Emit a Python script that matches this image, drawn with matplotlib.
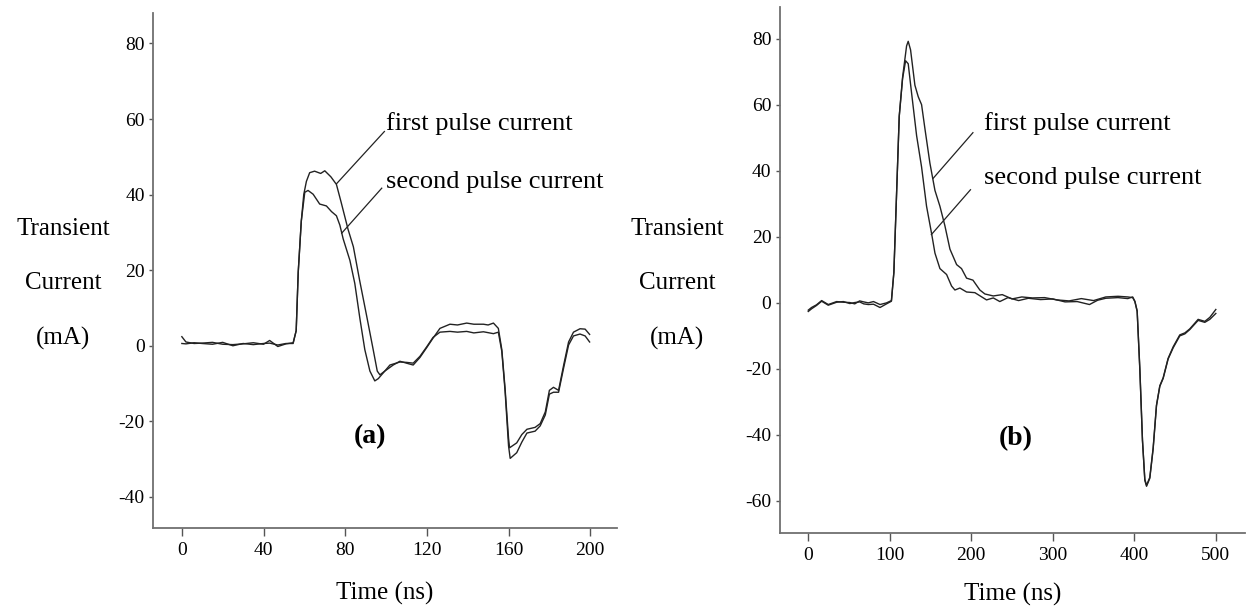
import matplotlib
matplotlib.use('Agg')
import matplotlib.pyplot as plt

plt.rcParams['font.family'] = ['Liberation Serif', 'DejaVu Serif']
plt.rcParams['axes.unicode_minus'] = False

#------------------------------------------------------------------------------
# Panel (a) data, 0-200 ns
#------------------------------------------------------------------------------
a_t1 = [0, 2, 6, 10, 15, 20, 25, 30, 35, 40, 43, 47, 51, 54.5, 56, 57, 58.5,
        59.7, 61, 62.6, 65, 68, 70, 73, 75.7, 78, 81.4, 84, 87, 90.4, 93.7,
        95.7, 97, 99.4, 103.5, 106.8, 110, 113.3, 116.6, 119.9, 123, 126.4,
        131.3, 135, 139.5, 143, 147.7, 150, 152.6, 155, 156.7, 158.3, 160,
        160.5, 164, 166.5, 169, 173, 175.5, 178, 180, 182, 184.5, 187, 189.4,
        191.8, 195, 197.5, 199.7]
a_y1 = [2.4, 1.0, 0.6, 0.7, 0.9, 0.4, 0.3, 0.5, 0.8, 0.4, 1.4, -0.2, 0.5,
        0.8, 4.0, 19.5, 33.0, 40.0, 43.5, 45.8, 46.2, 45.6, 46.3, 44.7, 42.7,
        38.0, 30.8, 26.2, 17.5, 8.2, -1.0, -6.7, -7.7, -6.7, -5.1, -4.1, -4.6,
        -5.1, -3.1, -0.5, 2.0, 4.6, 5.7, 5.5, 6.0, 5.7, 5.7, 5.5, 6.0, 4.6,
        -1.0, -11.3, -24.5, -27.0, -25.7, -23.5, -22.1, -21.6, -20.6, -17.5,
        -11.8, -11.0, -11.8, -5.1, 1.0, 3.6, 4.5, 4.4, 3.0]

a_t2 = [0, 2, 6, 10, 15, 20, 25, 30, 35, 40, 43, 47, 51, 54.5, 56, 57, 58.5,
        60.2, 61.8, 64.3, 67.5, 70.8, 73.3, 75.7, 77.4, 79, 82.3, 84.7, 87.2,
        89.6, 92.1, 94.5, 96.2, 98.6, 101.9, 106.8, 110, 113.3, 116.6, 119.9,
        123, 126.4, 131.3, 135, 139.5, 143, 147.7, 152.6, 155, 156.7, 158.3,
        160, 160.8, 164, 166.5, 169, 173, 175.5, 178, 180, 182, 184.5, 187,
        189.4, 191.8, 195, 197.5, 199.7]
a_y2 = [0.6, 0.5, 0.8, 0.6, 0.4, 0.9, 0.0, 0.6, 0.3, 0.6, 0.7, 0.2, 0.6,
        0.6, 4.0, 19.5, 33.0, 40.6, 41.1, 40.1, 37.5, 37.0, 35.5, 34.4, 31.9,
        28.3, 22.6, 16.5, 7.2, -1.0, -6.7, -9.3, -8.7, -7.2, -5.1, -4.3, -4.4,
        -4.6, -2.8, -0.3, 2.2, 3.6, 3.8, 3.6, 3.8, 3.4, 3.7, 3.2, 3.6, -1.5,
        -12.0, -26.5, -29.8, -28.3, -25.5, -23.1, -22.6, -21.2, -18.3, -12.8,
        -12.3, -12.3, -5.8, 0.2, 2.6, 3.1, 2.6, 1.0]

#------------------------------------------------------------------------------
# Panel (b) data, 0-500 ns
#------------------------------------------------------------------------------
b_t1 = [0, 4, 10, 16.4, 24.5, 34.8, 43, 51, 57, 63, 68, 73.6, 80, 88, 96,
        102, 105, 108.3, 111.6, 115.7, 120.6, 122.6, 125.5, 130.8, 134.9, 139,
        143, 149.2, 155.4, 161.5, 167.6, 173.8, 182, 188, 194.2, 202, 210.5,
        216.7, 227, 238, 250, 262, 275, 290, 305, 320, 335, 350, 365, 380, 392,
        398, 400.7, 403.5, 406.8, 410, 412.9, 415, 419, 423.1, 427.2, 431.3,
        435.4, 441.5, 447.7, 455.8, 462, 468, 478.3, 486.5, 492.6, 500]
b_y1 = [-2.2, -1.4, -0.6, 0.7, -0.5, 0.4, 0.2, 0.1, -0.3, 0.6, 0.3, 0.0,
        0.4, -0.5, 0.0, 0.7, 9.2, 32.9, 56.6, 68.4, 77.9, 79.3, 76.7, 66.0,
        62.5, 60.1, 53.0, 42.4, 34.1, 29.3, 23.4, 16.3, 11.6, 10.4, 7.5, 6.9,
        3.9, 2.7, 2.1, 2.5, 1.2, 1.8, 1.5, 1.6, 0.9, 0.6, 1.3, 0.7, 1.8, 2.0,
        1.8, 1.6, 0.4, -2.6, -20.4, -41.7, -53.5, -55.3, -52.9, -44.0, -31.0,
        -25.1, -22.7, -16.8, -13.3, -9.7, -9.1, -7.9, -5.0, -5.6, -4.4, -2.0]

b_t2 = [0, 4, 10, 16.4, 24.5, 34.8, 43, 51, 57, 63, 68, 73.6, 80, 88, 96,
        102, 105, 108.3, 111.6, 115.7, 119.4, 122.6, 126.7, 132.9, 139, 145.1,
        151.3, 155.4, 161.5, 169.7, 175.8, 179.9, 186, 194.2, 204.4, 218.7,
        227, 235, 245, 258, 270, 285, 300, 315, 330, 345, 355, 365, 380, 392,
        398, 400.7, 403.5, 406.8, 410, 412.9, 415, 419, 423.1, 427.2, 431.3,
        435.4, 441.5, 447.7, 455.8, 462, 468, 478.3, 486.5, 492.6, 500]
b_y2 = [-2.6, -1.8, -0.8, 0.5, -0.7, 0.2, 0.4, -0.2, 0.1, 0.3, -0.3, -0.5,
        -0.4, -1.4, -0.3, 0.5, 9.2, 32.9, 56.6, 68.0, 73.4, 72.5, 63.7, 50.7,
        41.2, 29.3, 21.0, 15.1, 10.4, 8.6, 5.1, 3.9, 4.5, 3.3, 3.1, 0.9, 1.5,
        0.4, 1.6, 0.7, 1.4, 1.0, 1.2, 0.3, 0.4, -0.5, 0.8, 1.4, 1.6, 1.3, 1.8,
        0.5, -2.4, -20.0, -41.5, -53.8, -55.6, -53.2, -44.3, -31.2, -25.3,
        -22.9, -17.0, -13.6, -10.0, -9.4, -8.1, -5.3, -5.9, -5.0, -3.2]

# leader lines and label anchors (data coordinates)
a_lead1 = ([75.8, 99.2], [42.9, 56.7])
a_lead2 = ([78.3, 97.9], [29.8, 41.7])
a_txt = [(100, 58.8, 'first pulse current'), (100, 43.3, 'second pulse current')]
b_lead1 = ([153, 202], [37.7, 51.6])
b_lead2 = ([151, 199], [20.7, 34.3])
b_txt = [(216, 54.5, 'first pulse current'), (216, 38.0, 'second pulse current')]

a_xticks = [0, 40, 80, 120, 160, 200]
a_yticks = [-40, -20, 0, 20, 40, 60, 80]
b_xticks = [0, 100, 200, 300, 400, 500]
b_yticks = [-60, -40, -20, 0, 20, 40, 60, 80]

#------------------------------------------------------------------------------
# Plot
#------------------------------------------------------------------------------
fig = plt.figure(figsize=(12.46, 6.11), dpi=100)
axa = fig.add_axes([0.123, 0.136, 0.372, 0.843])
axb = fig.add_axes([0.626, 0.128, 0.373, 0.860])

def style(ax, xlim, ylim, xticks, yticks, lpad):
    for s in ['top', 'right']:
        ax.spines[s].set_visible(False)
    for s in ['left', 'bottom']:
        ax.spines[s].set_color('#707070')
        ax.spines[s].set_linewidth(1.3)
    ax.set_xlim(*xlim)
    ax.set_ylim(*ylim)
    ax.set_xticks(xticks)
    ax.set_yticks(yticks)
    ax.tick_params(axis='x', direction='out', length=6, width=1, color='#555555',
                   labelsize=14, pad=4)
    ax.tick_params(axis='y', direction='out', length=3.2, width=1, color='#555555',
                   labelsize=14, pad=3)
    ax.set_xlabel('Time (ns)', fontsize=18, labelpad=lpad)

style(axa, (-14, 213), (-48.2, 88.1), a_xticks, a_yticks, 17)
style(axb, (-34.7, 535.5), (-69.7, 89.6), b_xticks, b_yticks, 14)

axa.plot(a_t1, a_y1, color='#222222', lw=1.0)
axa.plot(a_t2, a_y2, color='#222222', lw=1.0)
axb.plot(b_t1, b_y1, color='#222222', lw=1.0)
axb.plot(b_t2, b_y2, color='#222222', lw=1.0)

for ax, leads, txts in [(axa, [a_lead1, a_lead2], a_txt),
                        (axb, [b_lead1, b_lead2], b_txt)]:
    for lx, ly in leads:
        ax.plot(lx, ly, color='#222222', lw=0.9)
    for x, y, s in txts:
        ax.text(x, y, s, fontsize=19, ha='left', va='center')

axa.text(92, -24, '(a)', fontsize=20, fontweight='bold', ha='center', va='center')
axb.text(254, -41, '(b)', fontsize=20, fontweight='bold', ha='center', va='center')

for xc in [63 / 1246, 677 / 1246]:
    for yc, s in [(229, 'Transient'), (283, 'Current'), (338, '(mA)')]:
        fig.text(xc, 1 - yc / 611, s, fontsize=18, ha='center', va='center')

fig.savefig('out.png', dpi=100)
